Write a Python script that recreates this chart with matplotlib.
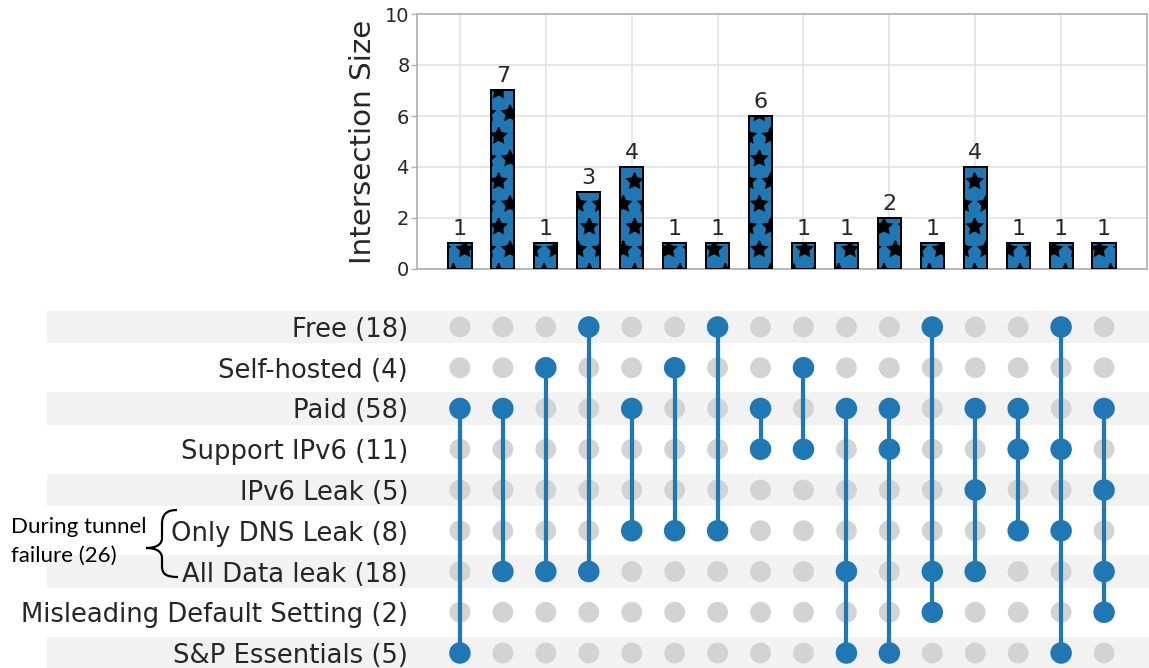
import matplotlib
matplotlib.use("Agg")
import matplotlib.pyplot as plt
import matplotlib.transforms as mtransforms
from matplotlib.patches import Rectangle, PathPatch
from matplotlib.path import Path

# ---- data -------------------------------------------------------------
set_labels = [
    "Free (18)",
    "Self-hosted (4)",
    "Paid (58)",
    "Support IPv6 (11)",
    "IPv6 Leak (5)",
    "Only DNS Leak (8)",
    "All Data leak (18)",
    "Misleading Default Setting (2)",
    "S&P Essentials (5)",
]
set_keys = ["Free", "Self-hosted", "Paid", "Support IPv6", "IPv6 Leak",
            "Only DNS Leak", "All Data leak", "Misleading", "S&P Essentials"]

intersection_sizes = [1, 7, 1, 3, 4, 1, 1, 6, 1, 1, 2, 1, 4, 1, 1, 1]
intersection_members = [
    ["Paid", "S&P Essentials"],
    ["Paid", "All Data leak"],
    ["Self-hosted", "All Data leak"],
    ["Free", "All Data leak"],
    ["Paid", "Only DNS Leak"],
    ["Self-hosted", "Only DNS Leak"],
    ["Free", "Only DNS Leak"],
    ["Paid", "Support IPv6"],
    ["Self-hosted", "Support IPv6"],
    ["Paid", "All Data leak", "S&P Essentials"],
    ["Paid", "Support IPv6", "S&P Essentials"],
    ["Free", "All Data leak", "Misleading"],
    ["Paid", "IPv6 Leak", "All Data leak"],
    ["Paid", "Support IPv6", "Only DNS Leak"],
    ["Free", "Support IPv6", "Only DNS Leak", "S&P Essentials"],
    ["Paid", "IPv6 Leak", "All Data leak", "Misleading"],
]
group_note = ["During tunnel", "failure (26)"]

# ---- style ------------------------------------------------------------
BLUE = "#1f77b4"
DOT_OFF = "#d3d3d3"
SHADE = "#f2f2f2"
TEXT = "#262626"
SPINE = "#b0b0b0"
GRID = "#e3e3e3"

W, H = 1149, 668
DPI = 136


def pt(px):
    """Convert a size in output pixels to points."""
    return px * 72.0 / DPI


fig = plt.figure(figsize=(W / DPI, H / DPI), dpi=DPI)
plt.rcParams["hatch.linewidth"] = 1.0


def fx(px):
    return px / W


def fy(py):
    return 1 - py / H


n_cols = len(intersection_sizes)
xs = list(range(n_cols))

# ---- intersection bars ------------------------------------------------
ax_bar = fig.add_axes([fx(417), fy(269), (1147 - 417) / W, (269 - 14) / H])
ax_bar.bar(xs, intersection_sizes, width=0.54, color=BLUE,
           edgecolor="black", linewidth=pt(2.0), hatch="*", zorder=3)
for x, v in zip(xs, intersection_sizes):
    ax_bar.annotate(str(v), (x, v), xytext=(0, pt(4)), textcoords="offset points",
                    ha="center", va="bottom", fontsize=pt(22.2), color=TEXT)
ax_bar.set_xlim(-1, n_cols)
ax_bar.set_ylim(0, 10)
ax_bar.set_yticks(range(0, 11, 2))
ax_bar.set_xticks(range(0, n_cols, 2))
ax_bar.set_xticklabels([])
ax_bar.tick_params(axis="x", length=0)
ax_bar.tick_params(axis="y", length=pt(6.2), width=pt(1.4), color=SPINE,
                   pad=pt(1.4), labelsize=pt(19.4), labelcolor=TEXT)
ax_bar.grid(True, color=GRID, linewidth=pt(1.7), zorder=0)
ax_bar.set_axisbelow(True)
for s in ax_bar.spines.values():
    s.set_color(SPINE)
    s.set_linewidth(pt(1.7))
ax_bar.set_ylabel("Intersection Size", fontsize=pt(29.4), color=TEXT,
                  labelpad=pt(8.3))

# ---- membership matrix ------------------------------------------------
row0, row_step = 327, 40.75
n_rows = len(set_keys)
top_px = row0 - 0.5 * row_step
ax_mat = fig.add_axes([fx(417), 0, (1147 - 417) / W, 1 - top_px / H])
ax_mat.set_xlim(-1, n_cols)
ax_mat.set_ylim((H - row0) / row_step, -0.5)
ax_mat.set_yticks(range(n_rows))
ax_mat.set_yticklabels(set_labels, fontsize=pt(25.9), color=TEXT)
ax_mat.tick_params(axis="y", length=0, pad=pt(9))
ax_mat.set_xticks([])
for s in ax_mat.spines.values():
    s.set_visible(False)
ax_mat.patch.set_alpha(0)

shade_tr = mtransforms.blended_transform_factory(fig.transFigure, ax_mat.transData)
for i in range(0, n_rows, 2):
    ax_mat.add_patch(Rectangle((fx(47), i - 0.4), 1 - fx(47), 0.8,
                               transform=shade_tr, facecolor=SHADE,
                               edgecolor="none", zorder=0, clip_on=False))

for x in xs:
    active = [set_keys.index(k) for k in intersection_members[x]]
    inactive = [r for r in range(n_rows) if r not in active]
    ax_mat.scatter([x] * len(inactive), inactive, s=pt(20.8) ** 2,
                   color=DOT_OFF, edgecolors="none", zorder=2)
    ax_mat.plot([x, x], [min(active), max(active)], color=BLUE,
                linewidth=pt(4.2), solid_capstyle="butt", zorder=3)
    ax_mat.scatter([x] * len(active), active, s=pt(21.5) ** 2, color=BLUE,
                   edgecolors="none", zorder=4)

# ---- group brace and note ---------------------------------------------
pts_px = [
    (177, 510),
    (166, 510), (162, 515), (162, 524),
    (162, 538),
    (162, 544), (157, 548), (146, 548),
    (157, 548), (162, 552), (162, 558),
    (162, 566),
    (162, 574), (166, 577), (178, 577),
]
codes = [Path.MOVETO,
         Path.CURVE4, Path.CURVE4, Path.CURVE4,
         Path.LINETO,
         Path.CURVE4, Path.CURVE4, Path.CURVE4,
         Path.CURVE4, Path.CURVE4, Path.CURVE4,
         Path.LINETO,
         Path.CURVE4, Path.CURVE4, Path.CURVE4]
brace = Path([(fx(px), fy(py)) for px, py in pts_px], codes)
fig.add_artist(PathPatch(brace, transform=fig.transFigure, facecolor="none",
                         edgecolor="black", linewidth=pt(2.2), capstyle="butt"))
fig.text(fx(11), fy(533), group_note[0], fontsize=pt(22.3), family="Lato",
         ha="left", va="baseline", color="black")
fig.text(fx(11), fy(562), group_note[1], fontsize=pt(22.3), family="Lato",
         ha="left", va="baseline", color="black")

fig.savefig("out.png", dpi=DPI)
